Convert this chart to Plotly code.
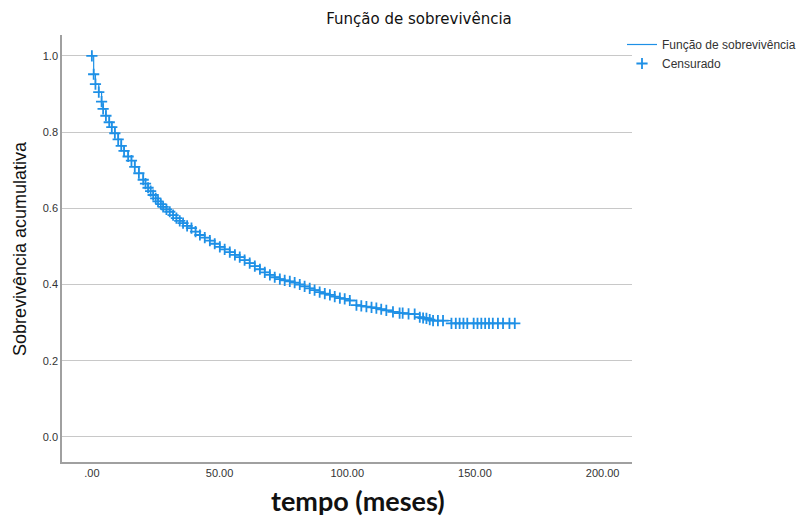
import plotly.graph_objects as go

# Censored observation times (months) and survival at those times
censor_time = [0, 0.7, 1.4, 2.7, 3.8, 4.4, 5.5, 6.8, 7.8, 9.0, 10.3, 11.5, 12.6, 14.2,
               15.5, 16.8, 18.4, 20.1, 21.0, 22.0, 23.0, 24.0, 25.0, 25.9, 27.0, 27.9,
               29.2, 30.5, 31.8, 33.1, 34.4, 35.7, 37.3, 39.0, 40.6, 42.3, 44.2, 46.2,
               48.1, 50.1, 52.0, 54.0, 56.0, 57.9, 59.8, 61.8, 63.8, 65.8, 67.7, 69.7,
               71.6, 73.6, 75.5, 77.5, 79.4, 81.4, 83.3, 85.3, 87.2, 89.2, 91.2, 93.2,
               95.1, 97.1, 99.0, 101.0, 103.6, 105.5, 107.5, 109.5, 111.4, 113.3, 115.3,
               117.9, 120.5, 121.7, 124.0, 126.4, 128.4, 129.7, 131.0, 132.3, 133.6,
               135.5, 137.5, 140.8, 142.5, 144.0, 145.5, 147.0, 149.5, 151.0, 152.5,
               154.0, 155.5, 157.0, 159.0, 161.0, 163.5, 165.6]
censor_surv = [1.0, 0.952, 0.926, 0.905, 0.880, 0.861, 0.843, 0.826, 0.813, 0.797, 0.781,
               0.764, 0.751, 0.736, 0.725, 0.709, 0.692, 0.675, 0.665, 0.654, 0.645, 0.635,
               0.626, 0.618, 0.611, 0.604, 0.597, 0.591, 0.582, 0.574, 0.567, 0.561, 0.554,
               0.548, 0.539, 0.530, 0.523, 0.515, 0.507, 0.499, 0.492, 0.485, 0.478, 0.472,
               0.464, 0.456, 0.448, 0.440, 0.432, 0.425, 0.419, 0.414, 0.411, 0.408, 0.405,
               0.400, 0.395, 0.390, 0.385, 0.380, 0.376, 0.373, 0.368, 0.364, 0.362, 0.358,
               0.346, 0.344, 0.342, 0.340, 0.338, 0.335, 0.332, 0.328, 0.325, 0.325, 0.323,
               0.322, 0.314, 0.312, 0.311, 0.308, 0.305, 0.305, 0.305, 0.298, 0.298, 0.298,
               0.298, 0.298, 0.298, 0.298, 0.298, 0.298, 0.298, 0.298, 0.298, 0.298, 0.298,
               0.298]

x_tickvals = [0, 50, 100, 150, 200]
x_ticktext = [".00", "50.00", "100.00", "150.00", "200.00"]
y_tickvals = [0.0, 0.2, 0.4, 0.6, 0.8, 1.0]

blue = "#1e90e6"

fig = go.Figure()
fig.add_trace(go.Scatter(
    x=censor_time, y=censor_surv, mode="lines", line_shape="hv",
    line=dict(color=blue, width=1.2), name="Função de sobrevivência"))
fig.add_trace(go.Scatter(
    x=censor_time, y=censor_surv, mode="markers",
    marker=dict(symbol="cross-thin", size=8, line=dict(color=blue, width=1.8), color=blue),
    name="Censurado"))

fig.update_layout(
    width=804, height=518,
    margin=dict(l=62, r=172, t=35, b=56, autoexpand=False),
    paper_bgcolor="white", plot_bgcolor="white",
    font=dict(family="Liberation Sans, Arial", size=11, color="#333333"),
    title=dict(text="Função de sobrevivência", x=419/804, xanchor="center",
               y=1 - 19/518, yanchor="middle",
               font=dict(family="DejaVu Sans", size=15, color="#111111")),
    showlegend=True,
    legend=dict(xref="container", yref="container", x=622/804, xanchor="left",
                y=1 - 30/518, yanchor="top",
                font=dict(family="Liberation Sans, Arial", size=12, color="#333333"),
                tracegroupgap=0, itemwidth=30, bgcolor="rgba(0,0,0,0)"),
    xaxis=dict(range=[-11.7, 211.5], tickvals=x_tickvals, ticktext=x_ticktext,
               showgrid=False, zeroline=False, showline=True, linecolor="#a0a0a0",
               linewidth=1.5, ticks="", tickfont=dict(size=11, color="#333333")),
    yaxis=dict(range=[-0.066, 1.055], tickvals=y_tickvals, tickformat=".1f",
               showgrid=True, gridcolor="#c8c8c8", gridwidth=1.2, zeroline=False,
               showline=True, linecolor="#a0a0a0", linewidth=1.5, ticks="",
               ticklen=6, tickfont=dict(size=11, color="#333333")),
    annotations=[
        dict(text="tempo (meses)", xref="paper", yref="paper",
             x=(358 - 62) / 570, y=-(500 - 462) / 427, xanchor="center", yanchor="middle",
             showarrow=False,
             font=dict(family="Lato, Open Sans", size=27, color="#111111", weight="bold")),
        dict(text="Sobrevivência acumulativa", xref="paper", yref="paper",
             x=-(62 - 20) / 570, y=(462 - 249) / 427, xanchor="center", yanchor="middle",
             textangle=-90, showarrow=False,
             font=dict(family="Liberation Sans, Arial", size=18, color="#111111")),
    ],
)

fig.write_html("out.html", post_script="document.body.style.margin='0';",
               config={"displayModeBar": False})
